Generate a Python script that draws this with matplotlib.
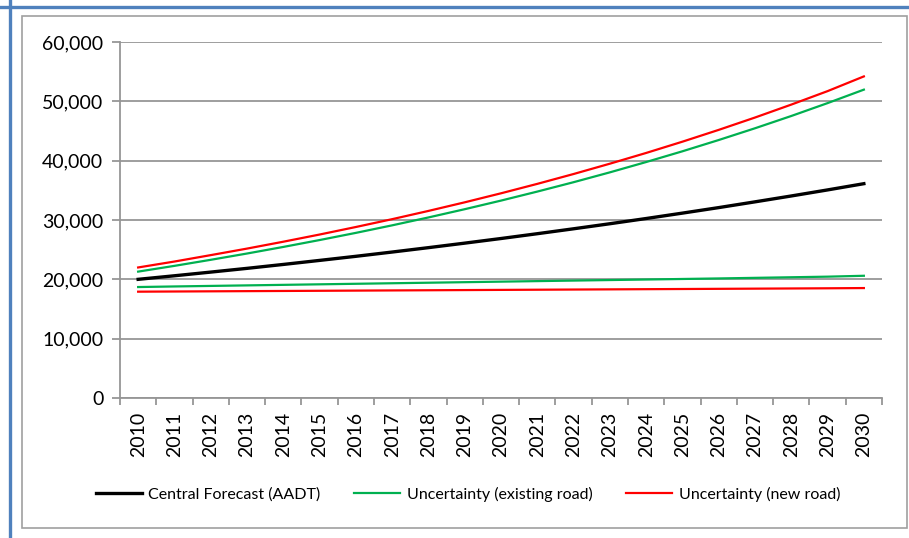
import matplotlib.pyplot as plt
from matplotlib.lines import Line2D
from matplotlib.patches import Rectangle
from matplotlib.ticker import FuncFormatter

plt.rcParams['font.family'] = ['Lato', 'DejaVu Sans']

years = list(range(2010, 2031))
central = [20000, 20600, 21220, 21850, 22510, 23190, 23880, 24600, 25340, 26100, 26880,
           27690, 28520, 29370, 30250, 31160, 32090, 33060, 34050, 35070, 36120]
exist_high = [21300, 22270, 23290, 24350, 25460, 26620, 27830, 29100, 30430, 31820, 33270,
              34790, 36370, 38030, 39770, 41580, 43480, 45460, 47530, 49700, 51970]
exist_low = [18700, 18800, 18890, 18980, 19070, 19160, 19250, 19340, 19430, 19520, 19610,
             19700, 19790, 19880, 19970, 20060, 20150, 20250, 20350, 20450, 20600]
new_high = [22000, 23000, 24080, 25180, 26340, 27550, 28820, 30140, 31530, 32980, 34500,
            36090, 37750, 39490, 41300, 43200, 45190, 47270, 49450, 51720, 54200]
new_low = [17920, 17950, 17980, 18010, 18040, 18070, 18100, 18130, 18160, 18190, 18220,
           18250, 18280, 18310, 18340, 18370, 18400, 18430, 18460, 18490, 18530]

GREEN = '#00B050'
RED = '#FF0000'
GRID = '#969696'

fig = plt.figure(figsize=(9.09, 5.38), dpi=100)

# outer blue frame (top + left) and grey chart box
fig.add_artist(Line2D([0, 1], [1 - 6.5 / 538] * 2, color='#4F81BD', lw=2.4, transform=fig.transFigure))
fig.add_artist(Line2D([9.5 / 909] * 2, [0, 1], color='#4F81BD', lw=2.4, transform=fig.transFigure))
fig.add_artist(Rectangle((22 / 909, 1 - 528 / 538), (907 - 22) / 909, (528 - 16) / 538,
                         fill=False, ec='#A0A0A0', lw=1.2, transform=fig.transFigure))

ax = fig.add_axes([120 / 909, 1 - 398 / 538, (882 - 120) / 909, (398 - 42) / 538])
x = list(range(len(years)))

ax.plot(x, central, color='black', lw=2.4, label='Central Forecast (AADT)', zorder=4)
ax.plot(x, exist_high, color=GREEN, lw=1.6, label='Uncertainty (existing road)', zorder=3)
ax.plot(x, exist_low, color=GREEN, lw=1.6, zorder=3)
ax.plot(x, new_high, color=RED, lw=1.6, label='Uncertainty (new road)', zorder=3)
ax.plot(x, new_low, color=RED, lw=1.6, zorder=3)

ax.set_xlim(-0.5, len(years) - 0.5)
ax.set_ylim(0, 60000)
ax.set_yticks(range(0, 60001, 10000))
ax.yaxis.set_major_formatter(FuncFormatter(lambda v, p: f'{int(v):,}'))
ax.grid(axis='y', color=GRID, lw=1.3)
ax.set_axisbelow(True)

ax.set_xticks([i - 0.5 for i in range(len(years) + 1)])
ax.set_xticklabels([])
ax.set_xticks(x, minor=True)
ax.set_xticklabels([str(y) for y in years], minor=True, rotation=90, fontsize=14)
ax.tick_params(axis='x', which='minor', length=0, pad=10)
ax.tick_params(axis='x', which='major', length=5, color=GRID, width=1.3)
ax.tick_params(axis='y', length=6, color=GRID, width=1.3, labelsize=14, pad=6)

for s in ['top', 'right']:
    ax.spines[s].set_visible(False)
for s in ['left', 'bottom']:
    ax.spines[s].set_color(GRID)
    ax.spines[s].set_linewidth(1.3)

fig.legend(loc='center', bbox_to_anchor=(468 / 909, 1 - 494 / 538), ncol=3, frameon=False,
           fontsize=11.5, handlelength=2.9, handletextpad=0.4, columnspacing=2.1)

fig.savefig('out.png', dpi=100)
